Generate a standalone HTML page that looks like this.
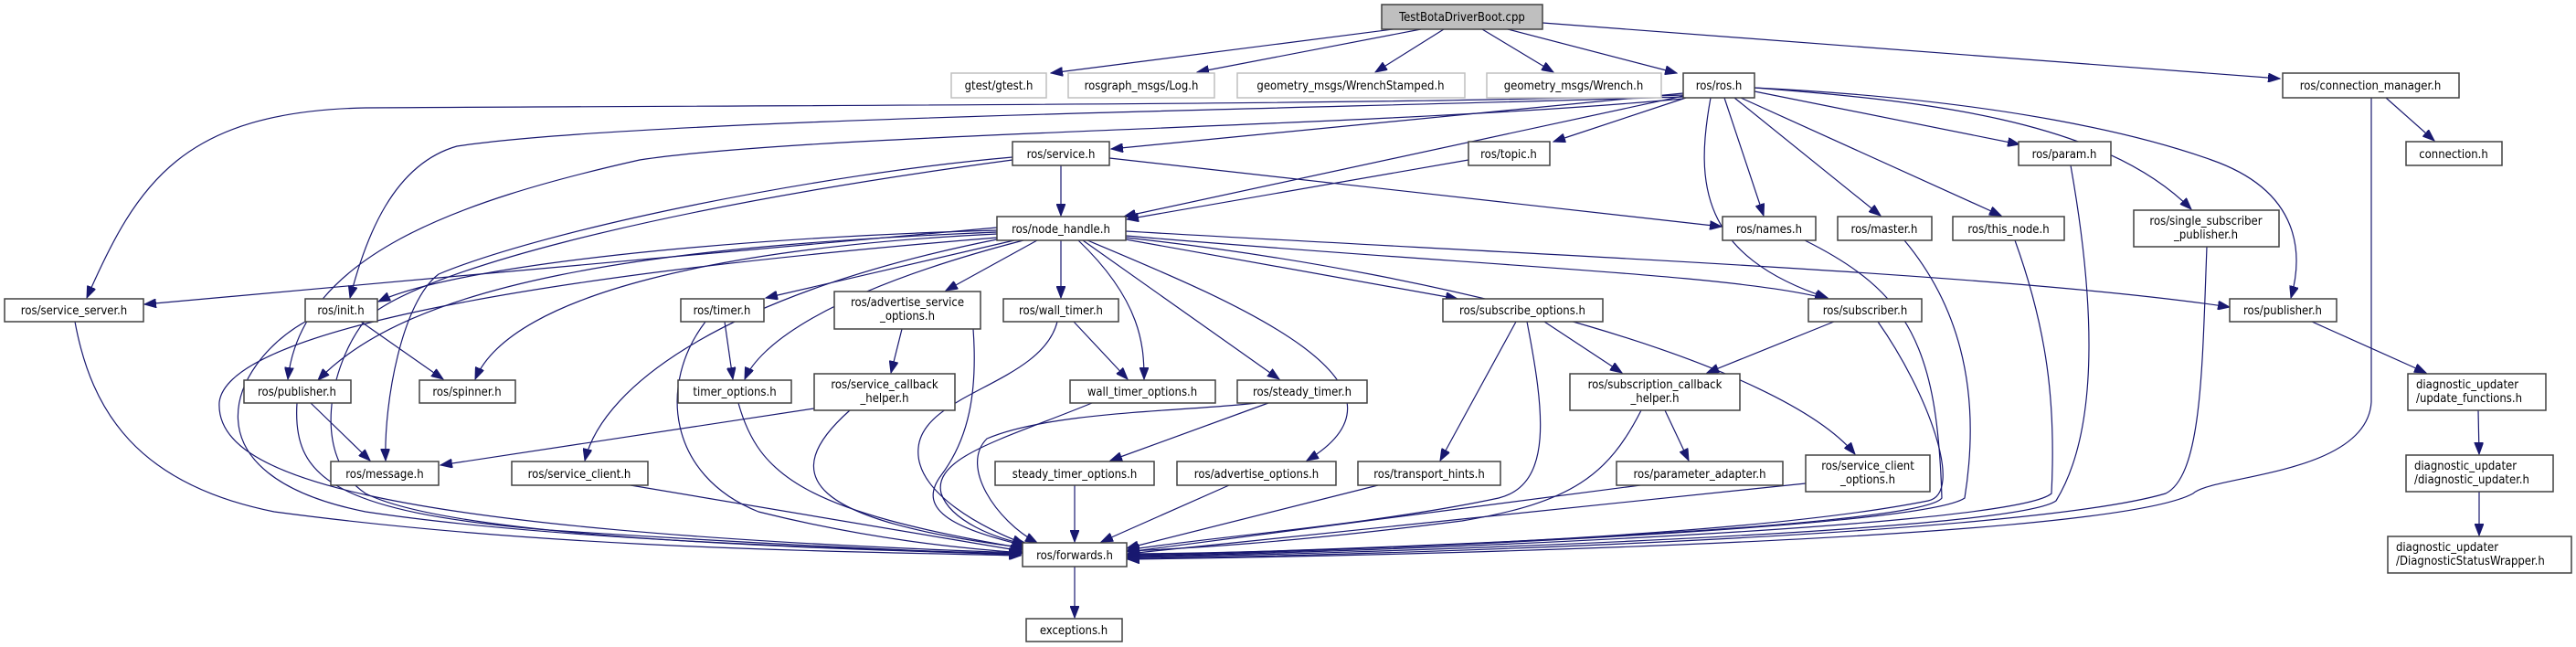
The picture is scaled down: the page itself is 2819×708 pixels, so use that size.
<!DOCTYPE html>
<html><head><meta charset="utf-8"><style>
html,body{margin:0;padding:0;background:#fff;}
svg{display:block;}
text{font-family:"DejaVu Sans Condensed","DejaVu Sans","Liberation Sans",sans-serif;font-size:13px;fill:#000;}
.n{fill:#fff;stroke:#404040;stroke-width:1.5;}
.g{fill:#fff;stroke:#bfbfbf;stroke-width:1.5;}
.e{fill:none;stroke:#191970;stroke-width:1.2;marker-end:url(#a);}
</style></head><body>
<svg width="2819" height="708" viewBox="0 0 2819 708" xmlns="http://www.w3.org/2000/svg">
<defs><marker id="a" markerUnits="userSpaceOnUse" markerWidth="14" markerHeight="10" refX="13" refY="5" orient="auto"><path d="M0,0 L13,5 L0,10 z" fill="#191970" stroke="#191970"/></marker></defs>
<g>
<path class="e" d="M1540,30 L1150,80"/>
<path class="e" d="M1555,32 L1310,79"/>
<path class="e" d="M1580,32 L1505,79"/>
<path class="e" d="M1622,32 L1700,79"/>
<path class="e" d="M1650,32 L1835,80"/>
<path class="e" d="M1688,25 L2495,86"/>
<path class="e" d="M1842,102 L1216,163"/>
<path class="e" d="M1842,105 L1230,237"/>
<path class="e" d="M1845,107 L1700,155"/>
<path class="e" d="M1887,107 L1930,236"/>
<path class="e" d="M1898,107 L2058,236"/>
<path class="e" d="M1905,107 L2190,236"/>
<path class="e" d="M1920,100 L2210,158"/>
<path class="e" d="M1920,96 C2100,110 2300,130 2398,229"/>
<path class="e" d="M1920,96 C2200,110 2350,150 2420,175 C2520,210 2520,280 2507,326"/>
<path class="e" d="M1872,107 C1855,200 1860,280 2000,326"/>
<path class="e" d="M1842,104 C1500,115 900,115 400,118 C200,122 150,200 95,326"/>
<path class="e" d="M1842,106 C1400,120 700,130 500,160 C430,180 400,260 383,326"/>
<path class="e" d="M1842,108 C1500,140 900,145 700,175 C500,220 330,280 315,415"/>
<path class="e" d="M1161,181 L1161,236"/>
<path class="e" d="M1214,173 L1884,248"/>
<path class="e" d="M1108,172 C900,190 600,250 480,300 C440,330 420,440 422,504"/>
<path class="e" d="M1108,175 C700,230 450,300 400,350 C360,400 340,500 400,540 C500,590 900,600 1117,607"/>
<path class="e" d="M1607,175 L1233,240"/>
<path class="e" d="M1091,249 L158,333"/>
<path class="e" d="M1091,252 C800,260 500,290 414,330"/>
<path class="e" d="M1091,254 C700,270 450,310 348,416"/>
<path class="e" d="M1091,256 C800,270 560,320 520,415"/>
<path class="e" d="M1091,260 C600,300 250,360 240,440 C235,520 400,580 1117,605"/>
<path class="e" d="M1091,262 C800,320 660,420 640,504"/>
<path class="e" d="M1110,263 L838,326"/>
<path class="e" d="M1120,263 C900,320 830,380 815,415"/>
<path class="e" d="M1135,263 L1035,318"/>
<path class="e" d="M1161,263 L1161,326"/>
<path class="e" d="M1180,263 C1250,330 1252,380 1252,415"/>
<path class="e" d="M1185,263 L1400,415"/>
<path class="e" d="M1190,263 C1350,330 1570,420 1430,504"/>
<path class="e" d="M1232,262 L1595,327"/>
<path class="e" d="M1232,258 C1600,290 1900,300 1999,327"/>
<path class="e" d="M1232,253 C1700,280 2200,300 2440,336"/>
<path class="e" d="M1232,260 C1600,300 1950,400 2030,497"/>
<path class="e" d="M395,352 L485,415"/>
<path class="e" d="M334,352 C250,400 200,520 400,560 C600,590 900,600 1117,606"/>
<path class="e" d="M340,441 L405,504"/>
<path class="e" d="M325,441 C320,520 360,560 600,580 C900,600 1117,607 1117,607"/>
<path class="e" d="M82,352 C100,450 150,530 300,560 C600,600 900,603 1117,608"/>
<path class="e" d="M793,352 L802,415"/>
<path class="e" d="M772,352 C720,420 730,520 830,560 C950,590 1050,600 1120,605"/>
<path class="e" d="M808,441 C830,520 880,560 1120,600"/>
<path class="e" d="M987,360 L975,408"/>
<path class="e" d="M1065,360 C1070,430 1060,480 1030,520 C1000,560 1050,580 1125,598"/>
<path class="e" d="M891,447 L482,509"/>
<path class="e" d="M930,449 C850,520 880,570 1125,600"/>
<path class="e" d="M690,531 L1118,603"/>
<path class="e" d="M1157,352 C1140,420 1010,430 1005,490 C1000,540 1080,580 1121,595"/>
<path class="e" d="M1175,352 L1234,415"/>
<path class="e" d="M1195,441 C1100,480 1020,500 1030,540 C1040,570 1090,590 1125,596"/>
<path class="e" d="M1375,441 C1300,450 1150,450 1080,480 C1050,510 1090,570 1135,594"/>
<path class="e" d="M1388,441 L1215,504"/>
<path class="e" d="M1176,531 L1176,593"/>
<path class="e" d="M1345,531 L1205,593"/>
<path class="e" d="M1508,531 L1233,600"/>
<path class="e" d="M1659,352 L1576,504"/>
<path class="e" d="M1690,352 L1775,408"/>
<path class="e" d="M1671,352 C1690,450 1700,530 1640,545 C1500,575 1300,590 1234,602"/>
<path class="e" d="M1822,449 L1848,504"/>
<path class="e" d="M1796,449 C1760,520 1720,550 1600,570 C1400,595 1300,600 1234,603"/>
<path class="e" d="M1795,531 L1234,604"/>
<path class="e" d="M2007,352 L1868,408"/>
<path class="e" d="M2055,352 C2110,430 2150,540 2110,548 C1900,590 1400,605 1234,606"/>
<path class="e" d="M1976,529 L1234,606"/>
<path class="e" d="M1975,263 C2090,320 2120,380 2125,545 C2100,580 1400,605 1234,607"/>
<path class="e" d="M2084,263 C2140,330 2170,420 2150,545 C2100,580 1400,606 1234,608"/>
<path class="e" d="M2205,263 C2240,360 2250,440 2245,540 C2200,580 1400,607 1234,609"/>
<path class="e" d="M2266,181 C2280,260 2310,450 2250,548 C2200,585 1400,608 1234,610"/>
<path class="e" d="M2415,270 C2410,400 2410,520 2370,540 C2200,590 1400,610 1234,611"/>
<path class="e" d="M2595,107 L2595,440 C2590,520 2420,520 2400,540 C2300,595 1400,610 1234,612"/>
<path class="e" d="M2611,107 L2664,154"/>
<path class="e" d="M2530,352 L2655,408"/>
<path class="e" d="M2712,449 L2713,497"/>
<path class="e" d="M2713,538 L2713,586"/>
<path class="e" d="M1176,620 L1176,676"/>
</g>
<g>
<rect x="1512" y="5" width="176" height="27" fill="#bfbfbf" stroke="#404040" stroke-width="1.5"/><text x="1600" y="23" text-anchor="middle">TestBotaDriverBoot.cpp</text>
<rect class="g" x="1041" y="80" width="104" height="27"/><text x="1093" y="98" text-anchor="middle">gtest/gtest.h</text>
<rect class="g" x="1169" y="80" width="160" height="27"/><text x="1249" y="98" text-anchor="middle">rosgraph_msgs/Log.h</text>
<rect class="g" x="1354" y="80" width="249" height="27"/><text x="1478" y="98" text-anchor="middle">geometry_msgs/WrenchStamped.h</text>
<rect class="g" x="1627" y="80" width="191" height="27"/><text x="1722" y="98" text-anchor="middle">geometry_msgs/Wrench.h</text>
<rect class="n" x="1842" y="80" width="78" height="27"/><text x="1881" y="98" text-anchor="middle">ros/ros.h</text>
<rect class="n" x="2498" y="80" width="193" height="27"/><text x="2594" y="98" text-anchor="middle">ros/connection_manager.h</text>
<rect class="n" x="1108" y="155" width="106" height="26"/><text x="1161" y="173" text-anchor="middle">ros/service.h</text>
<rect class="n" x="1607" y="155" width="89" height="26"/><text x="1651" y="173" text-anchor="middle">ros/topic.h</text>
<rect class="n" x="2209" y="155" width="101" height="26"/><text x="2259" y="173" text-anchor="middle">ros/param.h</text>
<rect class="n" x="2633" y="155" width="105" height="26"/><text x="2685" y="173" text-anchor="middle">connection.h</text>
<rect class="n" x="1091" y="237" width="141" height="26"/><text x="1161" y="255" text-anchor="middle">ros/node_handle.h</text>
<rect class="n" x="1885" y="237" width="102" height="26"/><text x="1936" y="255" text-anchor="middle">ros/names.h</text>
<rect class="n" x="2011" y="237" width="103" height="26"/><text x="2062" y="255" text-anchor="middle">ros/master.h</text>
<rect class="n" x="2137" y="237" width="122" height="26"/><text x="2198" y="255" text-anchor="middle">ros/this_node.h</text>
<rect class="n" x="2335" y="230" width="159" height="40"/><text x="2414" y="246" text-anchor="middle">ros/single_subscriber</text><text x="2414" y="261" text-anchor="middle">_publisher.h</text>
<rect class="n" x="5" y="327" width="152" height="25"/><text x="81" y="344" text-anchor="middle">ros/service_server.h</text>
<rect class="n" x="334" y="327" width="79" height="25"/><text x="373" y="344" text-anchor="middle">ros/init.h</text>
<rect class="n" x="745" y="327" width="91" height="25"/><text x="790" y="344" text-anchor="middle">ros/timer.h</text>
<rect class="n" x="913" y="319" width="160" height="41"/><text x="993" y="335" text-anchor="middle">ros/advertise_service</text><text x="993" y="350" text-anchor="middle">_options.h</text>
<rect class="n" x="1098" y="327" width="126" height="25"/><text x="1161" y="344" text-anchor="middle">ros/wall_timer.h</text>
<rect class="n" x="1579" y="327" width="175" height="25"/><text x="1666" y="344" text-anchor="middle">ros/subscribe_options.h</text>
<rect class="n" x="1979" y="327" width="124" height="25"/><text x="2041" y="344" text-anchor="middle">ros/subscriber.h</text>
<rect class="n" x="2440" y="327" width="117" height="25"/><text x="2498" y="344" text-anchor="middle">ros/publisher.h</text>
<rect class="n" x="267" y="416" width="117" height="25"/><text x="325" y="433" text-anchor="middle">ros/publisher.h</text>
<rect class="n" x="459" y="416" width="105" height="25"/><text x="511" y="433" text-anchor="middle">ros/spinner.h</text>
<rect class="n" x="742" y="416" width="124" height="25"/><text x="804" y="433" text-anchor="middle">timer_options.h</text>
<rect class="n" x="891" y="409" width="154" height="40"/><text x="968" y="425" text-anchor="middle">ros/service_callback</text><text x="968" y="440" text-anchor="middle">_helper.h</text>
<rect class="n" x="1171" y="416" width="159" height="25"/><text x="1250" y="433" text-anchor="middle">wall_timer_options.h</text>
<rect class="n" x="1354" y="416" width="142" height="25"/><text x="1425" y="433" text-anchor="middle">ros/steady_timer.h</text>
<rect class="n" x="1718" y="409" width="186" height="40"/><text x="1811" y="425" text-anchor="middle">ros/subscription_callback</text><text x="1811" y="440" text-anchor="middle">_helper.h</text>
<rect class="n" x="2635" y="409" width="151" height="40"/><text x="2644" y="425">diagnostic_updater</text><text x="2644" y="440">/update_functions.h</text>
<rect class="n" x="362" y="505" width="118" height="26"/><text x="421" y="523" text-anchor="middle">ros/message.h</text>
<rect class="n" x="560" y="505" width="149" height="26"/><text x="634" y="523" text-anchor="middle">ros/service_client.h</text>
<rect class="n" x="1089" y="505" width="174" height="26"/><text x="1176" y="523" text-anchor="middle">steady_timer_options.h</text>
<rect class="n" x="1288" y="505" width="174" height="26"/><text x="1375" y="523" text-anchor="middle">ros/advertise_options.h</text>
<rect class="n" x="1486" y="505" width="156" height="26"/><text x="1564" y="523" text-anchor="middle">ros/transport_hints.h</text>
<rect class="n" x="1769" y="505" width="182" height="26"/><text x="1860" y="523" text-anchor="middle">ros/parameter_adapter.h</text>
<rect class="n" x="1976" y="498" width="136" height="40"/><text x="2044" y="514" text-anchor="middle">ros/service_client</text><text x="2044" y="529" text-anchor="middle">_options.h</text>
<rect class="n" x="2633" y="498" width="161" height="40"/><text x="2642" y="514">diagnostic_updater</text><text x="2642" y="529">/diagnostic_updater.h</text>
<rect class="n" x="1119" y="594" width="114" height="26"/><text x="1176" y="612" text-anchor="middle">ros/forwards.h</text>
<rect class="n" x="2613" y="587" width="201" height="40"/><text x="2622" y="603">diagnostic_updater</text><text x="2622" y="618">/DiagnosticStatusWrapper.h</text>
<rect class="n" x="1123" y="677" width="105" height="25"/><text x="1175" y="694" text-anchor="middle">exceptions.h</text>
</g>
</svg>
</body></html>
